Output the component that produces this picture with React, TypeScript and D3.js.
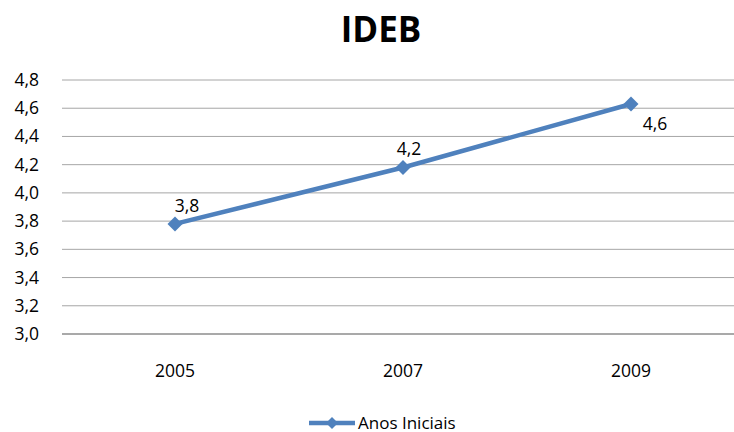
import React from "react";
import * as d3 from "d3";

const title = "IDEB";
const categories = ["2005", "2007", "2009"];
const seriesName = "Anos Iniciais";
const values = [3.78, 4.18, 4.63];
const dataLabels = ["3,8", "4,2", "4,6"];
const yTicks = [3.0, 3.2, 3.4, 3.6, 3.8, 4.0, 4.2, 4.4, 4.6, 4.8];

// label placement offsets (layout, not data)
const labelOffsets = [
  [12, -12],
  [6, -12],
  [24, 26],
];

const W = 734;
const H = 432;
const FONT = "'Open Sans', 'Noto Sans', sans-serif";
const BLUE = "#4F81BD";

export default function App() {
  const x = d3.scaleBand<string>().domain(categories).range([61, 745]);
  const y = d3.scaleLinear().domain([3.0, 4.8]).range([334, 80]);
  const cx = (c: string) => (x(c) as number) + x.bandwidth() / 2;
  const line = d3
    .line<number>()
    .x((_, i) => cx(categories[i]))
    .y((v) => y(v));
  const diamond = (px: number, py: number, r: number) =>
    `M${px},${py - r}L${px + r},${py}L${px},${py + r}L${px - r},${py}Z`;
  const fmt = (v: number) => d3.format(".1f")(v).replace(".", ",");

  return (
    <svg
      width={W}
      height={H}
      style={{ position: "absolute", left: 0, top: 0, background: "#fff" }}
      fontFamily={FONT}
    >
      <text x={381} y={41.5} textAnchor="middle" fontSize={35} fontWeight={700} fill="#000">
        {title}
      </text>
      {yTicks.map((t) => (
        <g key={t}>
          <line
            x1={62}
            x2={W}
            y1={y(t)}
            y2={y(t)}
            stroke={t === 3.0 ? "#8c8c8c" : "#a6a6a6"}
            strokeWidth={t === 3.0 ? 1.5 : 1}
          />
          <text x={39} y={y(t) + 6} textAnchor="end" fontSize={17.5} fill="#000">
            {fmt(t)}
          </text>
        </g>
      ))}
      {categories.map((c) => (
        <text key={c} x={cx(c)} y={377} textAnchor="middle" fontSize={17.5} fill="#000">
          {c}
        </text>
      ))}
      <path d={line(values) || ""} fill="none" stroke={BLUE} strokeWidth={4.5} strokeLinejoin="round" />
      {values.map((v, i) => (
        <path key={i} d={diamond(cx(categories[i]), y(v), 7.5)} fill={BLUE} />
      ))}
      {values.map((v, i) => (
        <text
          key={"l" + i}
          x={cx(categories[i]) + labelOffsets[i][0]}
          y={y(v) + labelOffsets[i][1]}
          textAnchor="middle"
          fontSize={17.5}
          fill="#000"
        >
          {dataLabels[i]}
        </text>
      ))}
      <g>
        <line x1={309} x2={355} y1={423} y2={423} stroke={BLUE} strokeWidth={4.5} />
        <path d={diamond(332, 423, 6)} fill={BLUE} />
        <text x={358} y={428.5} fontSize={17} fill="#000">
          {seriesName}
        </text>
      </g>
    </svg>
  );
}
